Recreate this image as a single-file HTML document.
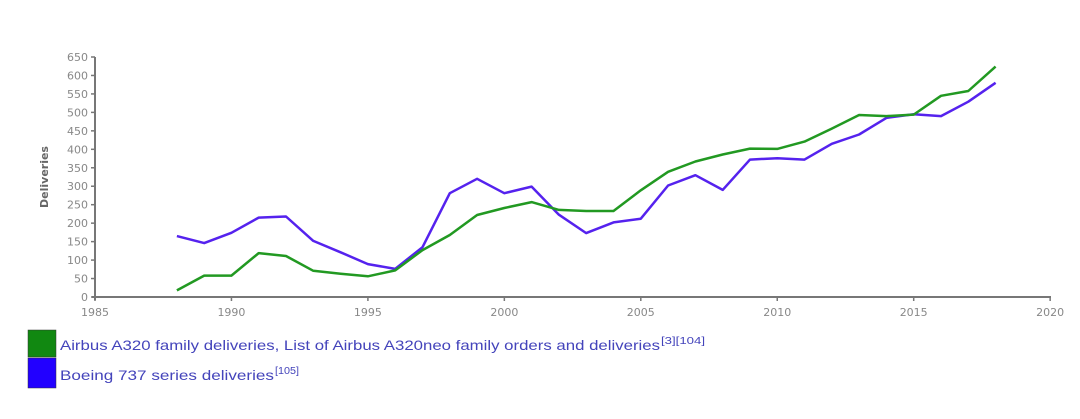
<!DOCTYPE html>
<html><head><meta charset="utf-8"><style>
body{margin:0;background:#fff;width:1080px;height:414px;overflow:hidden;font-family:"Liberation Sans",sans-serif}
</style></head><body>
<svg id="s" width="1080" height="414" xmlns="http://www.w3.org/2000/svg" font-family="DejaVu Sans, sans-serif"></svg>
<script>
var s=document.getElementById('s');
var X=y=>95+(y-1985)*27.29, Y=v=>297-v*240/650;
var h='';
h+='<line x1="95" y1="57" x2="95" y2="300" stroke="#777" stroke-width="2"/>';
h+='<line x1="92" y1="297" x2="1051" y2="297" stroke="#777" stroke-width="2"/>';
for(var v=0;v<=650;v+=50){var yy=Y(v);h+='<line x1="91" x2="95" y1="'+yy+'" y2="'+yy+'" stroke="#777" stroke-width="1.5"/><text x="88" y="'+(yy+4)+'" text-anchor="end" font-size="11" fill="#888">'+v+'</text>';}
for(var t=1985;t<=2020;t+=5){var xx=X(t);h+='<line x1="'+xx+'" x2="'+xx+'" y1="297" y2="301" stroke="#777" stroke-width="1.5"/><text x="'+xx+'" y="316" text-anchor="middle" font-size="11" fill="#888">'+t+'</text>';}
h+='<text transform="translate(48,177) rotate(-90)" text-anchor="middle" font-size="11" font-weight="bold" fill="#666">Deliveries</text>';
var A=[18,58,58,119,111,71,63,56,72,127,168,222,241,257,236,233,233,289,339,367,386,402,401,421,456,493,490,494,545,558,624];
var B=[165,146,174,215,218,152,121,89,76,135,281,320,281,299,223,173,202,212,302,330,290,372,376,372,415,440,485,495,490,529,580];
function pl(d,c){return '<polyline fill="none" stroke="'+c+'" stroke-width="2.5" stroke-linejoin="round" points="'+d.map((v,i)=>X(1988+i).toFixed(1)+','+Y(v).toFixed(1)).join(' ')+'"/>';}
h+=pl(B,'#5522ee')+pl(A,'#229922');
h+='<rect x="28" y="330" width="28" height="27" fill="#118811" stroke="#333" stroke-width="0.5"/>';
h+='<rect x="28" y="358" width="28" height="30" fill="#2200ff" stroke="#333" stroke-width="0.5"/>';
h+='<text x="60" y="350" font-family="Liberation Sans, sans-serif" font-size="14" fill="#4444bb" textLength="600" lengthAdjust="spacingAndGlyphs">Airbus A320 family deliveries, List of Airbus A320neo family orders and deliveries</text>';
h+='<text x="661" y="344" font-family="Liberation Sans, sans-serif" font-size="10" fill="#4444bb" textLength="44" lengthAdjust="spacingAndGlyphs">[3][104]</text>';
h+='<text x="60" y="380" font-family="Liberation Sans, sans-serif" font-size="14" fill="#4444bb" textLength="214" lengthAdjust="spacingAndGlyphs">Boeing 737 series deliveries</text>';
h+='<text x="275" y="374" font-family="Liberation Sans, sans-serif" font-size="10" fill="#4444bb" textLength="24" lengthAdjust="spacingAndGlyphs">[105]</text>';
s.innerHTML=h;
</script>
</body></html>
